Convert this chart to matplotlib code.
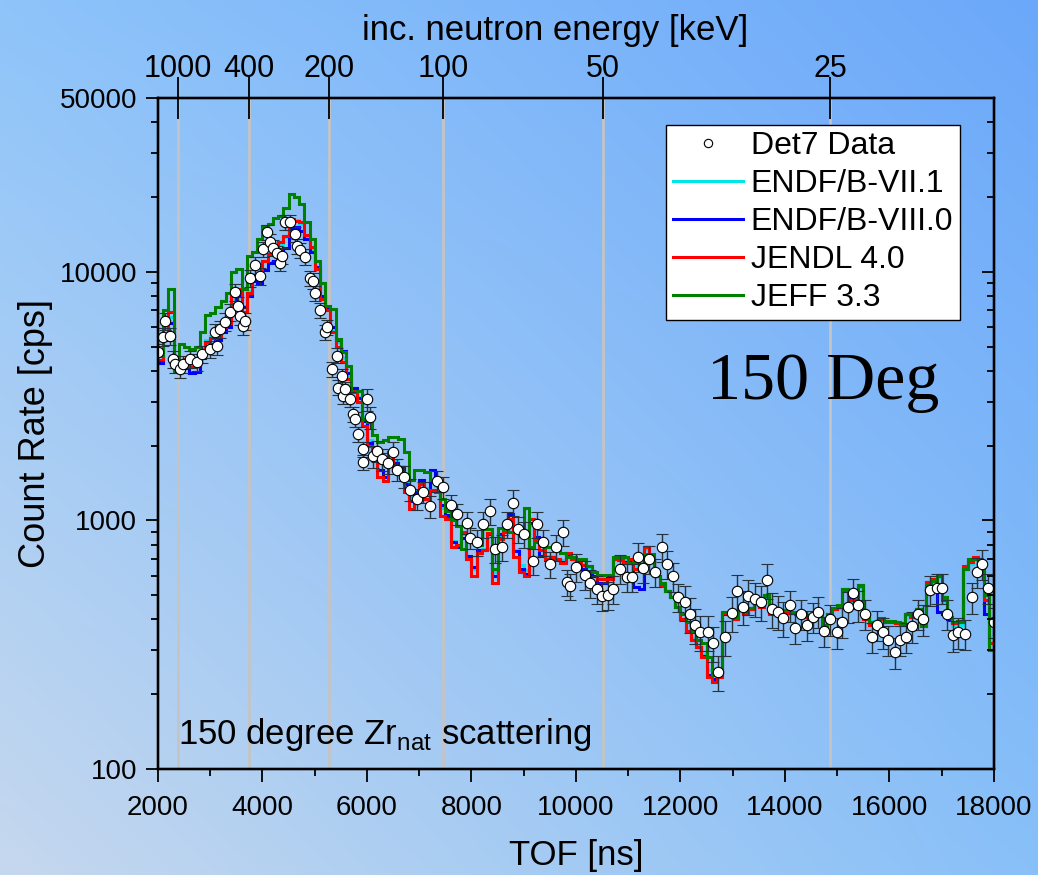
import numpy as np
import matplotlib
matplotlib.use("Agg")
import matplotlib.pyplot as plt
from matplotlib.lines import Line2D
from matplotlib.ticker import NullLocator, LogLocator, FixedLocator

plt.rcParams['font.family'] = ['Liberation Sans', 'DejaVu Sans']
plt.rcParams['mathtext.fontset'] = 'custom'
plt.rcParams['mathtext.rm'] = 'Liberation Sans'

# Det7 measured count rate vs time of flight [ns]
tof_data = [2000, 2100, 2130, 2230, 2290, 2330, 2420, 2480, 2610, 2750,
            2840, 2990, 3090, 3130, 3190, 3290, 3380, 3470, 3530, 3570,
            3630, 3670, 3760, 3860, 3950, 4010, 4090, 4140, 4200, 4280,
            4340, 4370, 4430, 4530, 4620, 4660, 4720, 4810, 4910, 4970,
            5000, 5100, 5200, 5230, 5330, 5430, 5450, 5520, 5540, 5580,
            5680, 5730, 5770, 5830, 5920, 5930, 6000, 6060, 6120, 6200,
            6290, 6400, 6500, 6580, 6700, 6820, 6960, 7080, 7210, 7340,
            7460, 7600, 7720, 7910, 7970, 8110, 8220, 8350, 8450, 8580,
            8680, 8800, 8890, 9000, 9180, 9250, 9370, 9500, 9620, 9750,
            9830, 9890, 10000, 10170, 10270, 10400, 10500, 10610, 10710, 10850,
            10980, 11070, 11190, 11280, 11400, 11520, 11650, 11740, 11860, 11950,
            12090, 12180, 12280, 12370, 12530, 12620, 12720, 12850, 12990, 13080,
            13190, 13290, 13430, 13540, 13660, 13750, 13860, 13960, 14100, 14190,
            14300, 14420, 14530, 14630, 14750, 14870, 15000, 15090, 15210, 15300,
            15400, 15540, 15670, 15770, 15880, 15970, 16110, 16200, 16320, 16430,
            16540, 16640, 16780, 16910, 17010, 17100, 17220, 17310, 17450, 17580,
            17680, 17770, 17890, 18000]
rate_data = [4750, 5480, 6330, 5500, 4460, 4250, 4050, 4250, 4450, 4330,
             4660, 4880, 5700, 5020, 5870, 6300, 6900, 8300, 7300, 6630,
             6070, 6330, 9400, 10600, 9600, 12300, 14400, 13200, 12500, 11900,
             10800, 11600, 15800, 15800, 14200, 12700, 12200, 11500, 9400, 9200,
             8200, 7000, 5730, 6000, 4070, 4600, 3420, 3800, 3170, 3380,
             3070, 2680, 2550, 2220, 1930, 1710, 3070, 2600, 1810, 1900,
             1760, 1700, 1880, 1600, 1500, 1330, 1220, 1300, 1140, 1440,
             1360, 1150, 1060, 980, 850, 820, 965, 1090, 765, 780,
             965, 1180, 920, 880, 685, 965, 815, 665, 780, 900,
             565, 545, 650, 605, 560, 530, 495, 500, 530, 640,
             590, 590, 715, 645, 700, 620, 780, 665, 595, 490,
             470, 420, 380, 355, 355, 320, 245, 340, 425, 520,
             450, 495, 485, 470, 575, 440, 430, 405, 455, 370,
             420, 380, 410, 430, 360, 400, 355, 390, 450, 510,
             455, 420, 340, 380, 355, 330, 295, 330, 340, 375,
             420, 400, 525, 535, 535, 420, 345, 355, 350, 490,
             620, 670, 535, 390]

# relative statistical uncertainty by TOF region
err_region_start = [2000, 4000, 6000, 8000, 10000, 12000, 14000]
err_region_frac = [0.08, 0.07, 0.10, 0.12, 0.13, 0.16, 0.14]

# MCNP predictions, 100 ns bins from 2000 ns
bin_start = 2000
bin_width = 100
endf71 = [4400, 5500, 6600, 4400, 4200, 4400, 4200, 4300, 4800, 5300,
          5500, 5700, 6000, 6300, 7700, 8300, 7300, 8400, 9800, 9600,
          11000, 11800, 12300, 12800, 13800, 15800, 16100, 15500, 13800, 12400,
          10400, 8000, 7100, 5900, 5200, 4500, 3800, 3400, 3150, 2600,
          2100, 1900, 1700, 1650, 1900, 1750, 1650, 1450, 1250, 1320,
          1450, 1350, 1450, 1380, 1120, 1050, 830, 800, 880, 720,
          640, 760, 770, 880, 620, 860, 910, 980, 760, 660,
          630, 960, 840, 760, 720, 720, 700, 690, 730, 700,
          680, 660, 650, 620, 590, 590, 600, 700, 690, 690,
          700, 650, 650, 770, 700, 600, 550, 520, 490, 450,
          400, 360, 335, 315, 290, 250, 245, 255, 430, 430,
          405, 440, 425, 440, 465, 455, 490, 425, 435, 430,
          430, 425, 420, 420, 410, 405, 415, 380, 415, 440,
          445, 520, 480, 475, 540, 410, 395, 390, 405, 395,
          395, 390, 385, 415, 410, 430, 380, 540, 560, 590,
          470, 400, 375, 380, 640, 670, 700, 650, 500, 340]
endf80 = [4300, 5300, 6200, 4300, 4100, 4100, 3900, 3950, 4500, 5000,
          5100, 5300, 5700, 6000, 7400, 8000, 7200, 8000, 9200, 9000,
          10200, 10800, 11000, 11200, 12500, 14900, 15200, 14600, 13600, 12000,
          10500, 8000, 7200, 6000, 5300, 4800, 3900, 3400, 3100, 2500,
          2050, 1850, 1600, 1500, 1850, 1700, 1620, 1400, 1200, 1300,
          1450, 1300, 1600, 1450, 1150, 1050, 820, 780, 850, 720,
          650, 760, 760, 880, 600, 880, 950, 1060, 750, 640,
          610, 980, 860, 720, 690, 700, 690, 680, 730, 700,
          680, 640, 620, 600, 560, 560, 590, 700, 690, 680,
          690, 540, 530, 780, 700, 600, 550, 520, 490, 450,
          400, 360, 330, 310, 285, 240, 230, 240, 420, 420,
          400, 440, 420, 440, 470, 455, 500, 425, 430, 430,
          430, 425, 420, 420, 410, 410, 420, 375, 420, 440,
          450, 530, 485, 480, 550, 405, 385, 385, 400, 390,
          390, 385, 380, 420, 410, 440, 375, 560, 580, 430,
          420, 400, 385, 390, 640, 690, 700, 620, 420, 300]
jendl40 = [4400, 5600, 6900, 4300, 4200, 4450, 4150, 4200, 4800, 5200,
           5400, 5500, 6000, 6200, 8000, 8500, 6900, 8200, 9600, 9400,
           11100, 11800, 12600, 13200, 13900, 16300, 16000, 15900, 14000, 12600,
           10300, 7800, 7000, 5700, 5000, 4340, 3700, 3300, 3000, 2400,
           1990, 1800, 1500, 1440, 1880, 1650, 1560, 1300, 1110, 1220,
           1400, 1220, 1330, 1300, 1040, 1010, 785, 800, 895, 700,
           595, 740, 760, 890, 560, 840, 900, 1010, 715, 620,
           595, 1010, 840, 760, 700, 710, 700, 675, 740, 700,
           675, 660, 655, 620, 580, 580, 580, 700, 690, 675,
           700, 635, 640, 785, 700, 595, 545, 520, 490, 450,
           400, 360, 330, 310, 283, 235, 224, 235, 426, 426,
           400, 440, 420, 440, 467, 450, 495, 420, 430, 430,
           426, 426, 420, 420, 410, 410, 420, 370, 420, 440,
           450, 525, 480, 480, 545, 400, 380, 380, 400, 390,
           390, 385, 380, 420, 410, 440, 375, 565, 580, 600,
           480, 405, 385, 390, 655, 680, 710, 665, 480, 322]
jeff33 = [4600, 7000, 8500, 4000, 5100, 5000, 4900, 5000, 5700, 6700,
          6800, 7200, 7600, 8200, 10000, 10300, 8500, 11600, 12000, 13500,
          15300, 15500, 16500, 16800, 18000, 20500, 20000, 18800, 15900, 13500,
          11000, 9000, 7300, 7100, 5370, 4750, 4180, 3280, 3300, 2550,
          2490, 2200, 2060, 2100, 2170, 2170, 2130, 1880, 1460, 1600,
          1600, 1560, 1460, 1420, 1220, 1090, 1000, 950, 765, 840,
          840, 800, 920, 920, 635, 935, 920, 900, 900, 865,
          1120, 785, 820, 820, 785, 785, 785, 740, 715, 715,
          700, 700, 655, 620, 605, 605, 605, 710, 710, 710,
          675, 675, 665, 730, 730, 595, 560, 520, 490, 450,
          420, 390, 360, 330, 322, 283, 240, 245, 430, 430,
          410, 440, 430, 445, 470, 460, 500, 430, 440, 435,
          435, 430, 425, 425, 415, 410, 420, 380, 420, 445,
          455, 530, 510, 500, 550, 410, 390, 390, 405, 395,
          395, 390, 385, 420, 415, 440, 380, 550, 570, 600,
          490, 410, 390, 395, 640, 700, 700, 680, 500, 300]

libraries = ['ENDF/B-VII.1', 'ENDF/B-VIII.0', 'JENDL 4.0', 'JEFF 3.3']
lib_colors = ['#00e5e5', '#0000ff', '#ff0000', '#008000']

# incident neutron energy markers on the top axis
energy_ticks = [1000, 400, 200, 100, 50, 25]   # keV
flight_path = 32.43   # m
t_offset = 36.0       # ns


def tof_from_energy(e_kev):
    return t_offset + 72298.0 * flight_path / np.sqrt(1000.0 * np.asarray(e_kev, dtype=float))


fig = plt.figure(figsize=(10.38, 8.75), dpi=100)

# slide-style background gradient
bg = fig.add_axes([0, 0, 1, 1], zorder=-5)
u = np.linspace(0, 1, 300)[None, :, None]
v = np.linspace(0, 1, 300)[:, None, None]
c_tl = np.array([142, 196, 250]) / 255
c_tr = np.array([108, 168, 250]) / 255
c_bl = np.array([198, 216, 238]) / 255
c_br = np.array([136, 192, 248]) / 255
grad = (c_tl * (1 - u) * (1 - v) + c_tr * u * (1 - v)
        + c_bl * (1 - u) * v + c_br * u * v)
bg.imshow(grad, aspect='auto', extent=[0, 1, 0, 1], interpolation='bilinear')
bg.axis('off')

ax = fig.add_axes([0.1522, 0.1211, 0.8054, 0.7669])
ax.set_facecolor('none')

for t in tof_from_energy(energy_ticks):
    ax.axvline(t, color='#c4c4c4', lw=2.0, zorder=1)

edges = bin_start + bin_width * np.arange(len(jendl40) + 1)
for name, vals, col in zip(libraries, [endf71, endf80, jendl40, jeff33], lib_colors):
    ax.stairs(vals, edges, color=col, lw=2.2, zorder=3, baseline=None)

tof_arr = np.array(tof_data, dtype=float)
rate_arr = np.array(rate_data, dtype=float)
frac = np.array(err_region_frac)[np.searchsorted(err_region_start, tof_arr, side='right') - 1]
ax.errorbar(tof_arr, rate_arr, yerr=rate_arr * frac, fmt='o', ms=7.5,
            mfc='white', mec='black', mew=0.8, ecolor='#26323c', elinewidth=1.0,
            capsize=4.5, capthick=1.0, zorder=5)

ax.set_yscale('log')
ax.set_xlim(2000, 18000)
ax.set_ylim(100, 50000)
ax.set_xticks(np.arange(2000, 18001, 2000))
ax.xaxis.set_minor_locator(FixedLocator(np.arange(3000, 18000, 2000)))
ax.set_yticks([100, 1000, 10000, 50000])
ax.set_yticklabels(['100', '1000', '10000', '50000'])
ax.yaxis.set_minor_locator(LogLocator(base=10, subs=np.arange(2, 10)))
ax.tick_params(which='major', direction='out', length=9, width=1.3, labelsize=20)
ax.tick_params(which='minor', direction='out', length=5, width=1.3)
ax.tick_params(axis='x', pad=10)
ax.tick_params(axis='y', pad=6)
ax.set_xlabel('TOF [ns]', fontsize=25, labelpad=13)
ax.set_ylabel('Count Rate [cps]', fontsize=26, labelpad=5)
for s in ax.spines.values():
    s.set_linewidth(1.6)

# mirrored inward ticks on the right
ax_r = ax.twinx()
ax_r.set_yscale('log')
ax_r.set_ylim(100, 50000)
ax_r.set_yticks([100, 1000, 10000, 50000])
ax_r.yaxis.set_minor_locator(LogLocator(base=10, subs=np.arange(2, 10)))
ax_r.tick_params(which='major', direction='in', length=9, width=1.3, labelright=False)
ax_r.tick_params(which='minor', direction='in', length=5, width=1.3)
for s in ax_r.spines.values():
    s.set_linewidth(1.6)

# energy scale on top
ax_t = ax.twiny()
ax_t.set_xlim(2000, 18000)
ax_t.set_xticks(tof_from_energy(energy_ticks))
ax_t.set_xticklabels([str(e) for e in energy_ticks])
ax_t.xaxis.set_minor_locator(NullLocator())
ax_t.tick_params(axis='x', direction='inout', length=30, width=1.3, labelsize=22, pad=-5)
ax_t.set_xlabel('inc. neutron energy [keV]', fontsize=25, labelpad=10)
ax_t.xaxis.label.set_x(0.475)
for s in ax_t.spines.values():
    s.set_linewidth(1.6)

handles = [Line2D([], [], ls='none', marker='o', ms=6, mfc='white', mec='black', mew=0.8)]
handles += [Line2D([], [], color=c, lw=2.2) for c in lib_colors]
leg = ax.legend(handles, ['Det7 Data'] + libraries, loc='upper right',
                bbox_to_anchor=(0.959, 0.96), fontsize=23, frameon=True,
                fancybox=False, edgecolor='black', framealpha=1, borderaxespad=0,
                handlelength=2.2, handletextpad=0.25, labelspacing=0.25, borderpad=0.2)
leg.get_frame().set_linewidth(1.0)
leg.set_zorder(10)

ax.text(0.657, 0.551, '150 Deg', transform=ax.transAxes, family='Liberation Serif',
        fontsize=49, va='baseline', ha='left')
ax.text(0.024, 0.038, r'150 degree Zr$_\mathregular{nat}$ scattering', transform=ax.transAxes,
        fontsize=25, va='baseline', ha='left')

fig.savefig('out.png', dpi=100)
